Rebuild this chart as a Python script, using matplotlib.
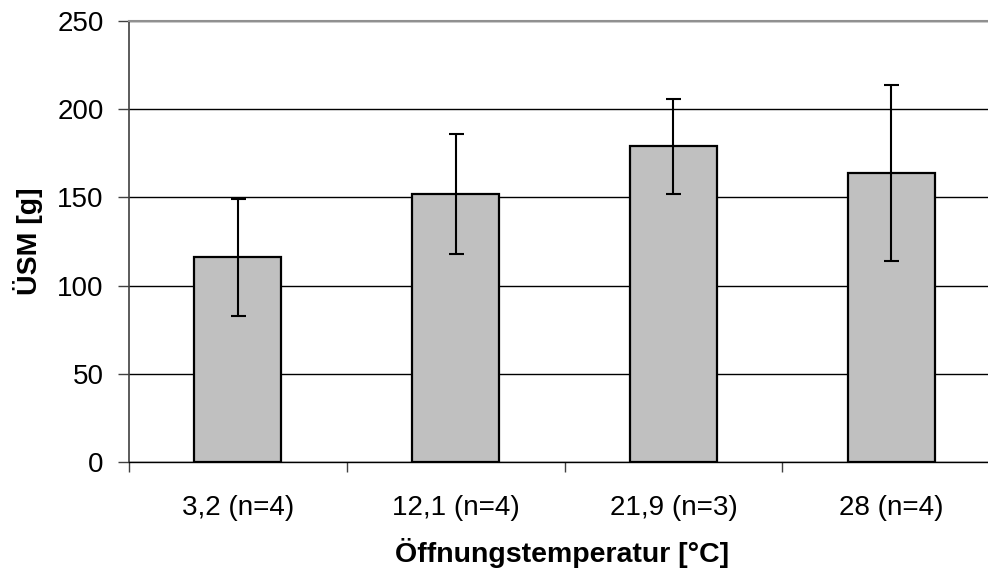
import matplotlib
matplotlib.use("Agg")
import matplotlib.pyplot as plt
import numpy as np

categories = ["3,2 (n=4)", "12,1 (n=4)", "21,9 (n=3)", "28 (n=4)"]
means = [116, 152, 179, 164]
errors = [33, 34, 27, 50]
y_ticks = [0, 50, 100, 150, 200, 250]

plt.rcParams['font.family'] = ['Liberation Sans', 'DejaVu Sans']

fig = plt.figure(figsize=(9.88, 5.72), dpi=100)
ax = fig.add_axes([129 / 988, 110 / 572, 871 / 988, 441 / 572])

x = np.arange(len(categories))
ax.set_axisbelow(True)
ax.yaxis.grid(True, color='black', linewidth=1.0)
ax.bar(x, means, width=0.4, color='#C0C0C0', edgecolor='black', linewidth=1.6, zorder=2)
ax.errorbar(x, means, yerr=errors, fmt='none', ecolor='black', elinewidth=1.5,
            capsize=5.4, capthick=1.5, zorder=3)

ax.set_xlim(-0.5, 3.5)
ax.set_ylim(0, 250)
ax.set_yticks(y_ticks)
ax.set_yticklabels([str(v) for v in y_ticks], fontsize=20)
ax.tick_params(axis='y', length=7.6, width=1.0, pad=10.5, color='#404040')

ax.set_xticks(x)
ax.set_xticklabels(categories, fontsize=20)
ax.tick_params(axis='x', which='major', length=0, pad=24)
ax.set_xticks(np.arange(-0.5, 4.0, 1.0), minor=True)
ax.tick_params(axis='x', which='minor', length=7.2, width=1.0, color='#404040')

ax.spines['left'].set_color('#404040')
ax.spines['left'].set_linewidth(1.2)
ax.spines['top'].set_color('#909090')
ax.spines['top'].set_linewidth(1.5)
ax.spines['bottom'].set_color('black')
ax.spines['bottom'].set_linewidth(1.0)
ax.spines['right'].set_visible(False)

ax.set_ylabel("ÜSM [g]", fontsize=20.5, fontweight='bold', labelpad=10)
fig.text(562 / 988, 1 - 553 / 572, "Öffnungstemperatur [°C]", fontsize=20.5,
         fontweight='bold', ha='center', va='center')

fig.savefig("out.png", dpi=100)
